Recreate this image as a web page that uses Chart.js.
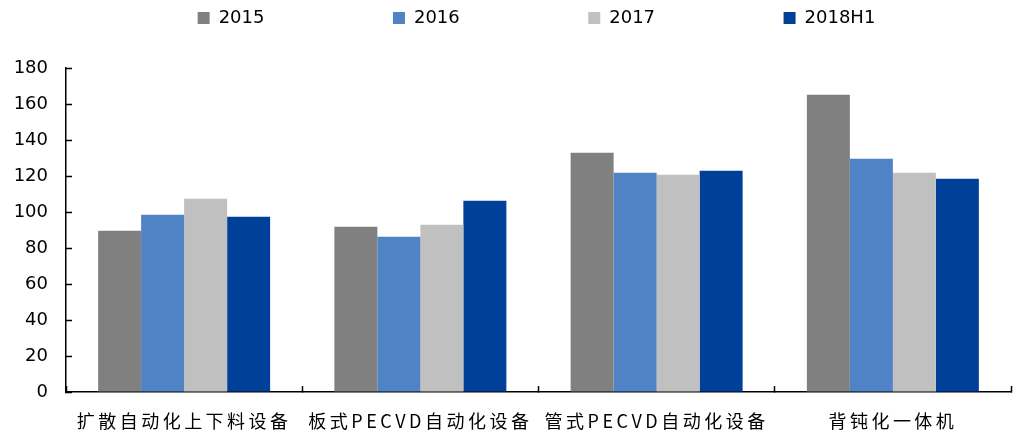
<!DOCTYPE html>
<html>
<head>
<meta charset="utf-8">
<script src="https://cdn.jsdelivr.net/npm/chart.js@4.4.0/dist/chart.umd.min.js"></script>
<style>
    html, body { margin: 0; padding: 0; background: #ffffff; }
    #wrap { width: 1014px; height: 434px; }
</style>
</head>
<body>
<div id="wrap"><canvas id="chart"></canvas></div>
<script>
// Data
const categories = ['扩散自动化上下料设备', '板式PECVD自动化设备', '管式PECVD自动化设备', '背钝化一体机'];
const seriesNames = ['2015', '2016', '2017', '2018H1'];
const values2015 = [89.6, 91.8, 132.9, 165.2];
const values2016 = [98.5, 86.3, 121.8, 129.6];
const values2017 = [107.4, 92.9, 120.7, 121.8];
const values2018H1 = [97.4, 106.3, 122.9, 118.5];
const yMin = 0;
const yMax = 180;
const yStep = 20;

// Series colors
const seriesColors = ['#808080', '#5083C5', '#C0C0C0', '#004098'];

// Legend placement tweaks
const LEGEND_PADDING = 128.5;
const LEGEND_ITEM_TOP = 9;
const LEGEND_SHIFT = 31;
const X_LABEL_SPACING = '3.5px';

const seriesValues = [values2015, values2016, values2017, values2018H1];

// Moves the legend row and spaces out the category labels
const layoutTweaks = {
    id: 'layoutTweaks',
    afterLayout(chart) {
        const lg = chart.legend;
        if (!lg) return;
        const bottom = lg.bottom;
        lg.top = LEGEND_ITEM_TOP - LEGEND_PADDING;
        lg.bottom = bottom;
        lg.height = lg.bottom - lg.top;
        lg.left += LEGEND_SHIFT;
        lg.right += LEGEND_SHIFT;
    },
    beforeDraw(chart) {
        const xs = chart.scales.x;
        if (xs && !xs._spaced) {
            const orig = xs.drawLabels;
            xs.drawLabels = function (area) {
                const ctx = this.ctx;
                ctx.save();
                ctx.letterSpacing = X_LABEL_SPACING;
                orig.call(this, area);
                ctx.restore();
            };
            xs._spaced = true;
        }
    }
};

new Chart(document.getElementById('chart'), {
    type: 'bar',
    data: {
        labels: categories,
        datasets: seriesNames.map((name, i) => ({
            label: name,
            data: seriesValues[i],
            backgroundColor: seriesColors[i],
            borderWidth: 0,
            categoryPercentage: 0.728,
            barPercentage: 1.0
        }))
    },
    options: {
        responsive: true,
        maintainAspectRatio: false,
        animation: false,
        layout: {
            padding: { top: 0, right: 3, bottom: 0, left: 0 }
        },
        plugins: {
            legend: {
                position: 'top',
                maxHeight: 68,
                labels: {
                    boxWidth: 12,
                    boxHeight: 12,
                    padding: LEGEND_PADDING,
                    color: '#000000',
                    font: { family: '"DejaVu Sans", sans-serif', size: 18 }
                }
            },
            tooltip: { enabled: false }
        },
        scales: {
            x: {
                afterFit(scale) { scale.height = 42; },
                grid: {
                    offset: true,
                    drawOnChartArea: false,
                    drawTicks: true,
                    tickLength: -6,
                    tickColor: '#000000',
                    tickWidth: 1.5
                },
                border: { display: true, color: '#000000', width: 1.5 },
                ticks: {
                    autoSkip: false,
                    maxRotation: 0,
                    minRotation: 0,
                    padding: 24,
                    color: '#000000',
                    font: { family: '"Noto Sans CJK SC", sans-serif', size: 18 }
                }
            },
            y: {
                min: yMin,
                max: yMax,
                afterFit(scale) { scale.width = 66; },
                grid: {
                    drawOnChartArea: false,
                    drawTicks: true,
                    tickLength: -6,
                    tickColor: '#000000',
                    tickWidth: 1.5
                },
                border: { display: true, color: '#000000', width: 1.5 },
                ticks: {
                    stepSize: yStep,
                    padding: 24,
                    color: '#000000',
                    font: { family: '"DejaVu Sans", sans-serif', size: 18 }
                }
            }
        }
    },
    plugins: [layoutTweaks]
});
</script>
</body>
</html>
